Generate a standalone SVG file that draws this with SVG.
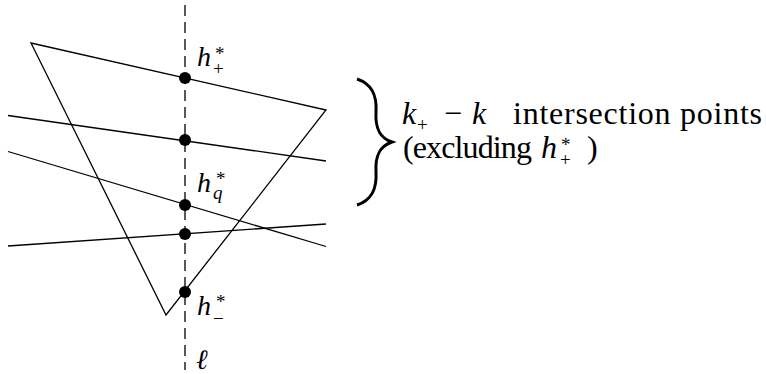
<svg xmlns="http://www.w3.org/2000/svg" width="766" height="374" viewBox="0 0 766 374">
<defs>
<circle id="dot" r="6" fill="#000"/>
</defs>
<rect width="766" height="374" fill="#fff"/>
<g id="connectors" stroke="#000" stroke-width="1.3" fill="none">
<line stroke-dasharray="11,6" x1="185" y1="5" x2="185" y2="370"/>
<polygon points="31,43 326,110 166,315"/>
<line x1="8" y1="115.5" x2="326" y2="161"/>
<line x1="8" y1="151.5" x2="326" y2="246.5"/>
<line x1="8" y1="246" x2="326" y2="224"/>
</g>
<g style="font-family:'Liberation Serif',serif" fill="#000">
<g id="p1"><use href="#dot" x="185" y="78"/>
<text style="font-family:'Liberation Serif',serif;font-size:28px;font-style:italic" x="197" y="66">h</text><text style="font-family:'Liberation Serif',serif;font-size:19px" x="215" y="60">*</text><text style="font-family:'Liberation Serif',serif;font-size:19px" x="213" y="75">+</text></g>
<g id="p2"><use href="#dot" x="185" y="140"/></g>
<g id="p3"><use href="#dot" x="185" y="205"/>
<text style="font-family:'Liberation Serif',serif;font-size:28px;font-style:italic" x="197" y="192">h</text><text style="font-family:'Liberation Serif',serif;font-size:19px" x="216" y="185">*</text><text style="font-family:'Liberation Serif',serif;font-size:19px;font-style:italic" x="213" y="199">q</text></g>
<g id="p4"><use href="#dot" x="185" y="234"/></g>
<g id="p5"><use href="#dot" x="185" y="292"/>
<text style="font-family:'Liberation Serif',serif;font-size:28px;font-style:italic" x="197" y="315">h</text><text style="font-family:'Liberation Serif',serif;font-size:19px" x="216" y="308">*</text><text style="font-family:'Liberation Serif',serif;font-size:19px" x="213" y="325">−</text></g>
<g id="ell"><text style="font-family:'Liberation Serif',serif;font-size:28px;font-style:italic" x="196" y="369">ℓ</text></g>
<g id="brace">
<path stroke="#000" stroke-width="3" fill="none" d="M357,79 C372,84 377,95 376,112 C375,129 380,138 392,142 C380,146 375,155 376,172 C377,189 372,200 357,205"/>
<text style="font-family:'Liberation Serif',serif;font-size:32px;font-style:italic" x="402" y="124">k</text>
<text style="font-family:'Liberation Serif',serif;font-size:19px" x="417" y="131">+</text>
<text style="font-family:'Liberation Serif',serif;font-size:32px" x="444" y="124">−</text>
<text style="font-family:'Liberation Serif',serif;font-size:32px;font-style:italic" x="472" y="124">k</text>
<text style="font-family:'Liberation Serif',serif;font-size:32px" x="513" y="124" textLength="249" lengthAdjust="spacing">intersection points</text>
<text style="font-family:'Liberation Serif',serif;font-size:32px" x="403" y="158" textLength="129" lengthAdjust="spacing">(excluding</text>
<text style="font-family:'Liberation Serif',serif;font-size:32px;font-style:italic" x="541" y="158">h</text>
<text style="font-family:'Liberation Serif',serif;font-size:19px" x="561" y="151">*</text>
<text style="font-family:'Liberation Serif',serif;font-size:19px" x="560" y="166">+</text>
<text style="font-family:'Liberation Serif',serif;font-size:32px" x="587" y="158">)</text>
</g>
</g>
</svg>
